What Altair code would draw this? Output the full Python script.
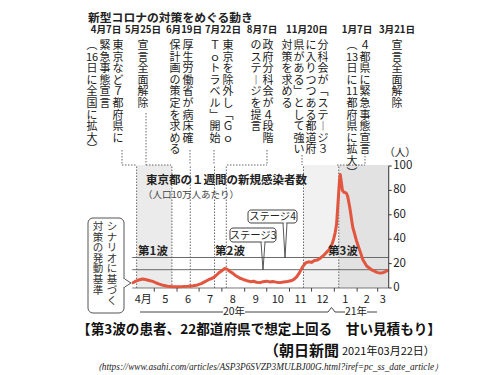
import re
import pandas as pd
import altair as alt

# ---------------- data ----------------
dates = [
    "2020-04-02", "2020-04-06", "2020-04-10", "2020-04-15", "2020-04-19", "2020-04-24",
    "2020-04-29", "2020-05-03", "2020-05-08", "2020-05-13", "2020-05-19", "2020-05-26",
    "2020-06-02", "2020-06-09", "2020-06-16", "2020-06-23", "2020-06-29", "2020-07-04",
    "2020-07-09", "2020-07-14", "2020-07-19", "2020-07-23", "2020-07-28", "2020-08-02",
    "2020-08-05", "2020-08-08", "2020-08-12", "2020-08-16", "2020-08-20", "2020-08-25",
    "2020-08-30", "2020-09-04", "2020-09-09", "2020-09-13", "2020-09-17", "2020-09-22",
    "2020-09-26", "2020-10-01", "2020-10-05", "2020-10-09", "2020-10-14", "2020-10-19",
    "2020-10-24", "2020-10-29", "2020-11-03", "2020-11-07", "2020-11-11", "2020-11-15",
    "2020-11-19", "2020-11-23", "2020-11-27", "2020-12-01", "2020-12-05", "2020-12-09",
    "2020-12-13", "2020-12-17", "2020-12-21", "2020-12-25", "2020-12-28", "2020-12-31",
    "2021-01-02", "2021-01-04", "2021-01-06", "2021-01-08", "2021-01-09", "2021-01-10",
    "2021-01-12", "2021-01-14", "2021-01-17", "2021-01-19", "2021-01-22", "2021-01-26",
    "2021-01-31", "2021-02-05", "2021-02-09", "2021-02-14", "2021-02-21", "2021-02-28",
    "2021-03-04", "2021-03-08", "2021-03-11", "2021-03-14",
]
cases = [
    4.3, 5.6, 6.6, 7.4, 7.0, 6.2,
    5.4, 4.3, 3.2, 2.2, 1.4, 1.1,
    1.0, 1.2, 1.5, 1.9, 2.5, 3.6,
    5.2, 6.8, 8.0, 9.6, 12.5, 14.6,
    16.0, 15.5, 13.5, 12.0, 10.0, 8.2,
    7.0, 6.0, 5.2, 5.6, 4.7, 4.4,
    5.2, 5.6, 5.0, 5.4, 4.8, 4.4,
    4.9, 5.3, 5.9, 7.0, 9.3, 13.0,
    17.5, 20.5, 21.5, 21.0, 22.5, 23.0,
    24.5, 26.5, 29.0, 31.5, 34.5, 40.0,
    45.0, 52.0, 70.0, 88.0, 93.0, 89.0,
    80.0, 78.5, 78.0, 75.5, 66.0, 50.0,
    39.0, 30.0, 23.0, 18.0, 14.8, 12.8,
    12.2, 12.5, 13.3, 14.2,
]

stage_levels = [15, 25]
y_ticks = [0, 20, 40, 60, 80, 100]
y_tick_labels = ["0", "20", "40", "60", "80", "100"]

month_starts = ["2020-05-01", "2020-06-01", "2020-07-01", "2020-08-01", "2020-09-01",
                "2020-10-01", "2020-11-01", "2020-12-01", "2021-01-01", "2021-02-01",
                "2021-03-01"]
month_labels = ["4月", "5", "6", "7", "8", "9", "10", "11", "12", "1", "2", "3"]
month_label_dates = ["2020-04-16", "2020-05-16", "2020-06-16", "2020-07-16", "2020-08-16",
                     "2020-09-16", "2020-10-16", "2020-11-16", "2020-12-16", "2021-01-16",
                     "2021-02-14", "2021-03-08"]

event_dates = ["2020-04-07", "2020-05-25", "2020-06-19", "2020-07-22", "2020-08-07",
               "2020-11-20", "2021-01-07"]
event_headings = ["4月7日", "5月25日", "6月19日", "7月22日", "8月7日", "11月20日",
                  "1月7日", "3月21日"]
event_texts = [
    "東京など７都府県に", "緊急事態宣言", "︵16日に全国に拡大︶",
    "宣言全面解除",
    "厚生労働省が病床確", "保計画の策定を求める",
    "東京を除外し﹁Ｇｏ", "Ｔｏトラベル﹂開始",
    "政府分科会が４段階", "のステ︱ジを提言",
    "分科会が﹁ステ︱ジ３", "に入りつつある都道府", "県がある﹂として強い", "対策を求める",
    "４都県に緊急事態宣言", "︵13日に11都府県に拡大︶",
    "宣言全面解除",
]

shade_starts = ["2020-04-07", "2020-11-20", "2021-01-07"]
shade_ends = ["2020-05-25", "2021-01-07", "2021-03-16"]

wave_labels = ["第1波", "第2波", "第3波"]
stage_labels = ["ステージ4", "ステージ3"]
scenario_text = ["シナリオに基づく", "対策の発動基準"]

title_text = "新型コロナの対策をめぐる動き"
chart_title = "東京都の１週間の新規感染者数"
chart_subtitle = "（人口10万人あたり）"
unit_label = "（人）"
year_labels = ["20年", "21年"]
caption = "【第3波の患者、22都道府県で想定上回る　甘い見積もり】"
source_name = "（朝日新聞"
source_date = "2021年03月22日）"
source_url = "（https://www.asahi.com/articles/ASP3P6SVZP3MULBJ00G.html?iref=pc_ss_date_article）"

axis_end_date = "2021-03-16"

# ---------------- helpers ----------------
ORIGIN = pd.Timestamp("2020-04-01")


def day(d):
    return (pd.Timestamp(d) - ORIGIN).days


W, H = 484, 367
xs = alt.Scale(domain=[-169, 489.5], nice=False, zero=False)
ys = alt.Scale(domain=[-71.31, 229.5], nice=False, zero=False)
PANEL_TOP = 100.8
axis_end = day(axis_end_date)
FONT = "Noto Sans CJK JP"


def vert(s):
    return "\n".join(re.findall(r"[0-9]{2}|.", s))


def texts(rows, **kw):
    df = pd.DataFrame(rows, columns=["px", "py", "t"])
    df["px"] = df["px"] - 8
    df["py"] = df["py"] - 8
    style = dict(font=FONT, color="#222")
    style.update(kw)
    return alt.Chart(df).mark_text(**style).encode(
        x=alt.X("px:Q", scale=None, axis=None),
        y=alt.Y("py:Q", scale=None, axis=None),
        text="t:N",
    )


def segs(rows, **kw):
    df = pd.DataFrame(rows, columns=["a", "b", "c", "d"]) - 8
    return alt.Chart(df).mark_rule(**kw).encode(
        x=alt.X("a:Q", scale=None, axis=None),
        y=alt.Y("b:Q", scale=None, axis=None),
        x2="c:Q", y2="d:Q",
    )


def boxes(rows, **kw):
    df = pd.DataFrame(rows, columns=["a", "b", "c", "d"]) - 8
    return alt.Chart(df).mark_rect(**kw).encode(
        x=alt.X("a:Q", scale=None, axis=None),
        y=alt.Y("b:Q", scale=None, axis=None),
        x2="c:Q", y2="d:Q",
    )


# ---------------- data layers ----------------
shade_df = pd.DataFrame({
    "d0": [day(d) for d in shade_starts],
    "d1": [min(day(d), axis_end) for d in shade_ends],
    "v0": 0, "v1": PANEL_TOP,
    "c": ["#ebebeb", "#f1f1f1", "#e2e2e2"],
})
shade = alt.Chart(shade_df).mark_rect().encode(
    x=alt.X("d0:Q", scale=xs, axis=None), x2="d1:Q",
    y=alt.Y("v0:Q", scale=ys, axis=None), y2="v1:Q",
    color=alt.Color("c:N", scale=None),
)

stage_df = pd.DataFrame({"v": stage_levels, "d0": 0, "d1": axis_end})
stages = alt.Chart(stage_df).mark_rule(color="#6a6a6a", strokeWidth=1).encode(
    x=alt.X("d0:Q", scale=xs, axis=None), x2="d1:Q",
    y=alt.Y("v:Q", scale=ys, axis=None),
)

base_df = pd.DataFrame({"v": [0], "d0": [0], "d1": [axis_end]})
baseline = alt.Chart(base_df).mark_rule(color="#777", strokeWidth=1).encode(
    x=alt.X("d0:Q", scale=xs, axis=None), x2="d1:Q",
    y=alt.Y("v:Q", scale=ys, axis=None),
)

ev_df = pd.DataFrame({"d": [day(d) for d in event_dates], "v0": 0, "v1": PANEL_TOP})
events = alt.Chart(ev_df).mark_rule(color="#555", strokeWidth=0.9, strokeDash=[1.5, 1.5]).encode(
    x=alt.X("d:Q", scale=xs, axis=None),
    y=alt.Y("v0:Q", scale=ys, axis=None), y2="v1:Q",
)

line_df = pd.DataFrame({"d": [day(d) for d in dates], "v": cases})
curve = alt.Chart(line_df).mark_line(color="#e2553f", strokeWidth=3, strokeJoin="round",
                                      strokeCap="round").encode(
    x=alt.X("d:Q", scale=xs, axis=None),
    y=alt.Y("v:Q", scale=ys, axis=None),
)

yaxis_df = pd.DataFrame({"d": [axis_end], "v0": [0], "v1": [100]})
yaxis = alt.Chart(yaxis_df).mark_rule(color="#333", strokeWidth=1).encode(
    x=alt.X("d:Q", scale=xs, axis=None),
    y=alt.Y("v0:Q", scale=ys, axis=None), y2="v1:Q",
)
ytick_df = pd.DataFrame({"v": y_ticks, "t": y_tick_labels, "d0": axis_end,
                         "d1": axis_end + 4, "dl": axis_end + 6})
yticks = alt.Chart(ytick_df).mark_rule(color="#333", strokeWidth=1).encode(
    x=alt.X("d0:Q", scale=xs, axis=None), x2="d1:Q",
    y=alt.Y("v:Q", scale=ys, axis=None),
)
ylabels = alt.Chart(ytick_df).mark_text(align="left", baseline="middle", fontSize=11.5,
                                        font=FONT, color="#222").encode(
    x=alt.X("dl:Q", scale=xs, axis=None),
    y=alt.Y("v:Q", scale=ys, axis=None),
    text="t:N",
)

xtick_df = pd.DataFrame({"d": [day(d) for d in month_starts], "v0": 0, "v1": -3})
xticks = alt.Chart(xtick_df).mark_rule(color="#444", strokeWidth=1).encode(
    x=alt.X("d:Q", scale=xs, axis=None),
    y=alt.Y("v0:Q", scale=ys, axis=None), y2="v1:Q",
)
xlab_df = pd.DataFrame({"d": [day(d) for d in month_label_dates], "t": month_labels, "v": -10})
xlabels = alt.Chart(xlab_df).mark_text(align="center", baseline="middle", fontSize=11,
                                       font=FONT, color="#222").encode(
    x=alt.X("d:Q", scale=xs, axis=None),
    y=alt.Y("v:Q", scale=ys, axis=None),
    text="t:N",
)

# ---------------- annotation layers (layout in page pixels) ----------------
heading_x = [106, 143, 184, 223, 262, 307, 357, 397]
col_x = [118, 105, 92, 143, 188, 175, 228, 215, 268, 256, 323, 311, 299, 287, 365, 352, 397]

headings = texts([(x, 30, t) for x, t in zip(heading_x, event_headings)],
                 align="center", baseline="middle", fontSize=9.6, fontWeight="bold")
columns = texts([(x, 40, vert(t)) for x, t in zip(col_x, event_texts)],
                align="center", baseline="top", fontSize=11, lineHeight=11.6,
                lineBreak="\n", color="#1a1a1a")

connectors = segs([
    (122, 150, 122, 165), (122, 165, 137, 165),
    (146, 113, 146, 165), (146, 165, 171, 165),
    (190, 150, 190, 165),
    (214, 150, 214, 165),
    (267, 150, 267, 165), (227, 165, 267, 165),
    (302, 155, 302, 165),
    (365, 150, 365, 165), (337, 165, 365, 165),
], color="#555", strokeWidth=0.9, strokeDash=[1.5, 1.5])

title = texts([(88, 17.5, title_text)], align="left", baseline="middle",
              fontSize=11.8, fontWeight="bold")
ctitle = texts([(146, 181, chart_title)], align="left", baseline="middle",
               fontSize=11.5, fontWeight="bold")
csub = texts([(143, 194.5, chart_subtitle)], align="left", baseline="middle",
             fontSize=9.5, color="#444")
unit = texts([(400, 153, unit_label)], align="center", baseline="middle", fontSize=10.5)

waves = texts([(153, 252, wave_labels[0]), (230, 252, wave_labels[1]), (343, 252, wave_labels[2])],
              align="center", baseline="middle", fontSize=11.5, fontWeight="bold")

# stage callouts
stage_boxes = boxes([(248, 210, 297, 223), (230, 228, 276, 242)],
                    fill="white", stroke="#444", strokeWidth=1, cornerRadius=3)
stage_ptrs = segs([(283, 223, 285, 258), (287, 223, 285, 258),
                   (261, 242, 263, 270), (265, 242, 263, 270)],
                  color="#444", strokeWidth=0.9)
stage_cover = segs([(283.7, 223, 286.3, 223), (261.7, 242, 264.3, 242)],
                   color="white", strokeWidth=1.6)
stage_text = texts([(272.5, 217, stage_labels[0]), (253, 235.5, stage_labels[1])],
                   align="center", baseline="middle", fontSize=10.3)

# scenario callout
sc_box = boxes([(88, 218, 124, 313)], fill="white", stroke="#555", strokeWidth=1, cornerRadius=5)
sc_cover = segs([(124, 279, 124, 287)], color="white", strokeWidth=1.8)
sc_ptr = segs([(124, 278.5, 131, 283), (131, 283, 124, 287.5)], color="#555", strokeWidth=1)
sc_text = texts([(112, 222, vert(scenario_text[0])), (98, 222, vert(scenario_text[1]))],
                align="center", baseline="top", fontSize=10.5, lineHeight=10.6,
                lineBreak="\n", color="#333")

# year bracket
year_lines = segs([
    (140, 312, 223, 312), (245, 312, 328, 312),
    (328, 312, 331.5, 307.5), (331.5, 307.5, 335, 312),
    (335, 312, 345, 312), (367, 312, 377, 312),
], color="#444", strokeWidth=1)
years = texts([(234, 312, year_labels[0]), (356, 312, year_labels[1])],
              align="center", baseline="middle", fontSize=10.5)

cap = texts([(259, 330, caption)], align="center", baseline="middle",
            fontSize=13.6, fontWeight="bold", color="#111")
src1 = texts([(339, 351, source_name)], align="right", baseline="middle",
             fontSize=15, fontWeight="bold", color="#111")
src2 = texts([(342, 352, source_date)], align="left", baseline="middle",
             fontSize=11, color="#111")
url = texts([(268, 367, source_url)], align="center", baseline="middle",
            fontSize=9.3, font="Liberation Serif", fontStyle="italic", color="#222")

chart = alt.layer(
    shade, stages, baseline, events, curve,
    yaxis, yticks, ylabels, xticks, xlabels,
    headings, columns, connectors, title, ctitle, csub, unit, waves,
    stage_ptrs, stage_boxes, stage_cover, stage_text,
    sc_ptr, sc_box, sc_cover, sc_text,
    year_lines, years, cap, src1, src2, url,
).properties(
    width=W, height=H, padding=0, background="white",
    autosize=alt.AutoSizeParams(type="none"),
).configure_view(stroke=None)

chart.save("out.html", embed_options={"renderer": "svg", "actions": False})
